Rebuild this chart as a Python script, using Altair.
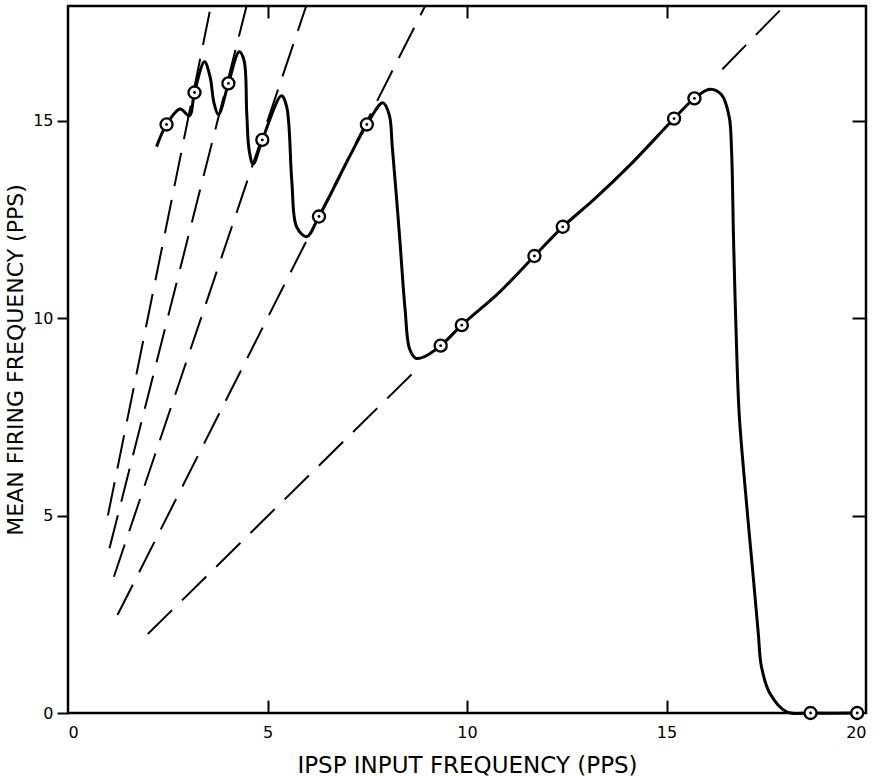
import altair as alt
import pandas as pd

# ---- data ----
curve_x = [2.22, 2.47, 2.81, 3.04, 3.17, 3.42, 3.56, 3.66, 3.77, 4.02, 4.29, 4.41, 4.48, 4.54,
           4.64, 4.87, 5.35, 5.48, 5.61, 5.73, 5.98, 6.29, 7.49, 7.89, 8.05, 8.13, 8.30, 8.45,
           8.56, 8.72, 8.95, 9.34, 9.87, 10.83, 11.69, 12.40, 13.17, 14.12, 15.19, 15.70,
           16.09, 16.38, 16.57, 16.63, 16.68, 16.74, 16.82, 16.98, 17.16, 17.30, 17.38, 17.59,
           18.01, 18.61, 19.78]
curve_y = [14.34, 14.90, 15.29, 15.12, 15.71, 16.49, 16.11, 15.44, 15.15, 15.94, 16.74, 16.53,
           15.18, 14.25, 13.90, 14.51, 15.63, 15.35, 13.45, 12.31, 12.06, 12.57, 14.90, 15.45,
           15.15, 14.30, 12.20, 10.20, 9.22, 8.98, 9.03, 9.30, 9.82, 10.67, 11.57, 12.31,
           12.99, 13.91, 15.05, 15.56, 15.79, 15.65, 15.10, 14.25, 12.00, 9.80, 7.60, 5.60,
           3.60, 2.02, 1.17, 0.50, 0.03, 0.0, 0.0]

marker_x = [2.47, 3.17, 4.02, 4.87, 6.29, 7.49, 9.34, 9.87, 11.69, 12.40, 15.19, 15.70, 18.61, 19.78]
marker_y = [14.90, 15.71, 15.94, 14.51, 12.57, 14.90, 9.30, 9.82, 11.57, 12.31, 15.05, 15.56, 0.0, 0.0]

# dashed reference lines (ratio lines): segment start and end points
seg_names = ["5:1", "4:1", "3:1", "2:1", "1:1 a", "1:1 b"]
seg_x0 = [1.00, 1.04, 1.15, 1.24, 2.00, 16.40]
seg_y0 = [5.00, 4.17, 3.45, 2.48, 2.00, 16.30]
seg_x1 = [3.58, 4.475, 5.97, 8.95, 8.70, 17.95]
seg_y1 = [17.9, 17.9, 17.9, 17.9, 8.66, 17.9]

x_ticks = [0, 5, 10, 15, 20]
y_ticks = [0, 5, 10, 15]
inner_ticks = [5, 10, 15]

x_title = "IPSP INPUT FREQUENCY (PPS)"
y_title = "MEAN FIRING FREQUENCY (PPS)"

# ---- tables ----
curve_df = pd.DataFrame({"x": curve_x, "y": curve_y, "i": list(range(len(curve_x)))})
marker_df = pd.DataFrame({"x": marker_x, "y": marker_y})
rows = []
for n, a, b, c, d in zip(seg_names, seg_x0, seg_y0, seg_x1, seg_y1):
    rows.append({"line": n, "x": a, "y": b})
    rows.append({"line": n, "x": c, "y": d})
dash_df = pd.DataFrame(rows)

FONT = "DejaVu Sans"
xs = alt.Scale(domain=[0, 20], nice=False, zero=False)
ys = alt.Scale(domain=[0, 17.9], nice=False, zero=False)

dashed = alt.Chart(dash_df).mark_line(
    color="black", strokeWidth=2, strokeDash=[34, 14], clip=True
).encode(
    x=alt.X("x:Q", scale=xs, axis=alt.Axis(
        orient="bottom", values=x_ticks, ticks=False, domain=False, grid=False,
        labelFontSize=16, labelFont=FONT, labelPadding=11, labelColor="black",
        title=x_title, titleFont=FONT, titleFontSize=23, titleFontWeight="normal",
        titlePadding=14, titleColor="black")),
    y=alt.Y("y:Q", scale=ys, axis=alt.Axis(
        orient="left", values=y_ticks, ticks=True, tickSize=11, tickWidth=2,
        tickColor="black", domain=False, grid=False,
        labelFontSize=16, labelFont=FONT, labelPadding=4, labelColor="black",
        title=y_title, titleFont=FONT, titleFontSize=22, titleFontWeight="normal",
        titlePadding=5, titleColor="black")),
    detail="line:N",
)

curve = alt.Chart(curve_df).mark_line(
    color="black", strokeWidth=3, interpolate="catmull-rom"
).encode(
    x=alt.X("x:Q", scale=xs, axis=alt.Axis(
        orient="bottom", offset=-13, values=inner_ticks, tickSize=13, tickWidth=2,
        tickColor="black", labels=False, domain=False, grid=False, title=None)),
    y=alt.Y("y:Q", scale=ys, axis=alt.Axis(
        orient="right", offset=-14, values=inner_ticks, tickSize=14, tickWidth=2,
        tickColor="black", labels=False, domain=False, grid=False, title=None)),
    order="i:Q",
)

markers = alt.Chart(marker_df).mark_point(
    shape="circle", size=145, filled=True, fill="white", stroke="black",
    strokeWidth=2.3, opacity=1
).encode(
    x=alt.X("x:Q", scale=xs, axis=alt.Axis(
        orient="top", offset=-12, values=inner_ticks, tickSize=12, tickWidth=2,
        tickColor="black", labels=False, domain=False, grid=False, title=None)),
    y=alt.Y("y:Q", scale=ys, axis=None),
)

dots = alt.Chart(marker_df).mark_point(
    shape="circle", size=8, filled=True, color="black", opacity=1
).encode(
    x=alt.X("x:Q", scale=xs, axis=None),
    y=alt.Y("y:Q", scale=ys, axis=None),
)

chart = alt.layer(dashed, curve, markers, dots).resolve_axis(
    x="independent", y="independent"
).properties(
    width=798, height=707,
    autosize=alt.AutoSizeParams(type="none"),
    padding={"left": 68, "top": 6, "right": 17, "bottom": 64},
    background="white",
).configure_view(
    stroke="black", strokeWidth=2.5
)

chart.save("out.html", embed_options={"renderer": "svg", "actions": False})
